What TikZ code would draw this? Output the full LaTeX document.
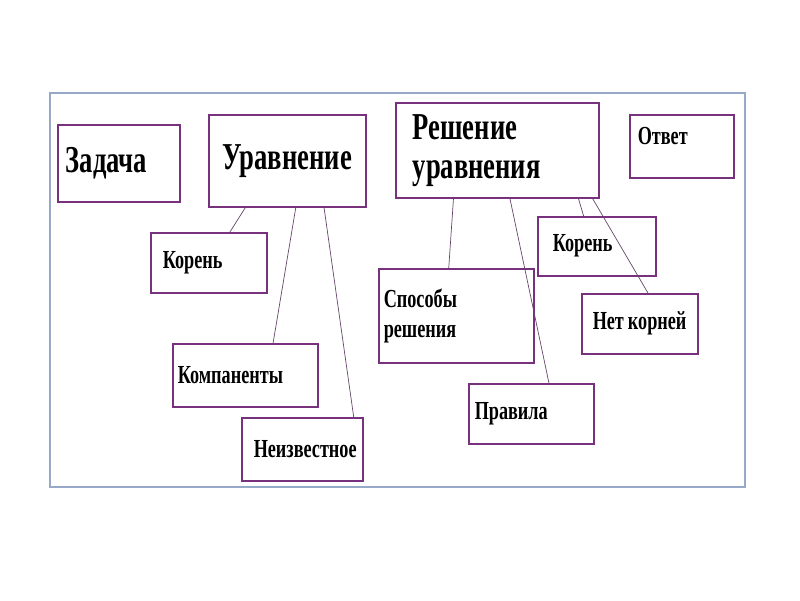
\documentclass[tikz,border=0pt]{standalone}
\usepackage{fontspec}
\setmainfont{Liberation Serif}[FakeStretch=0.7]
\usetikzlibrary{calc}
\definecolor{frm}{RGB}{150,170,200}
\definecolor{pur}{RGB}{120,50,125}
\definecolor{lnk}{RGB}{100,70,105}
\begin{document}
\begin{tikzpicture}[x=1pt,y=-1pt,
  box/.style={draw=pur, line width=1.5pt, anchor=north west, align=left, inner ysep=0pt},
  big/.style={font=\bfseries\fontsize{38}{39}\selectfont},
  small/.style={font=\bfseries\fontsize{26}{30}\selectfont},
  link/.style={draw=lnk, line width=0.7pt}]
\useasboundingbox (0,0) rectangle (800,600);
\draw[frm, line width=1.5pt] (50,93) rectangle (745,487);
% boxes
\node[box, big, inner xsep=8pt, text width=106pt, minimum height=77pt] (zad) at (57,124) {Задача};
\node[box, big, inner xsep=4pt, text width=149pt, minimum height=92pt, align=center] (ur) at (208,114) {Уравнение};
\node[box, big, inner xsep=17pt, text width=169pt, minimum height=95pt] (resh) at (395,102) {Решение\\уравнения};
\node[box, small, inner xsep=8pt, text width=88pt, minimum height=63pt, text depth=20pt] (otv) at (629,114) {Ответ};
\node[box, small, inner xsep=12pt, text width=92pt, minimum height=60pt] (korL) at (150,232) {Корень};
\node[box, small, inner xsep=15pt, text width=88pt, minimum height=59pt] (korR) at (537,216) {Корень};
\node[box, small, inner xsep=5pt, text width=145pt, minimum height=94pt] (spos) at (378,268) {Способы\\решения};
\node[box, small, inner xsep=11pt, text width=94pt, minimum height=60pt] (net) at (581,293) {\mbox{Нет\hspace{4pt}корней}};
\node[box, small, inner xsep=5pt, text width=135pt, minimum height=63pt] (komp) at (172,343) {Компаненты};
\node[box, small, inner xsep=6pt, text width=113pt, minimum height=60pt] (prav) at (468,383) {Правила};
\node[box, small, inner xsep=12pt, text width=97pt, minimum height=63pt] (neiz) at (241,417) {Неизвестное};
% connectors
\draw[link] ($(ur.south west)!0.236!(ur.south east)$) -- ($(korL.north west)!0.68!(korL.north east)$);
\draw[link] ($(ur.south west)!0.554!(ur.south east)$) -- ($(komp.north west)!0.69!(komp.north east)$);
\draw[link] ($(ur.south west)!0.732!(ur.south east)$) -- ($(neiz.north west)!0.92!(neiz.north east)$);
\draw[link] ($(resh.south west)!0.286!(resh.south east)$) -- ($(spos.north west)!0.452!(spos.north east)$);
\draw[link] ($(resh.south west)!0.562!(resh.south east)$) -- ($(prav.north west)!0.64!(prav.north east)$);
\draw[link] ($(resh.south west)!0.897!(resh.south east)$) -- ($(korR.north west)!0.39!(korR.north east)$);
\draw[link] ($(resh.south west)!0.966!(resh.south east)$) -- ($(net.north west)!0.57!(net.north east)$);
\end{tikzpicture}
\end{document}
